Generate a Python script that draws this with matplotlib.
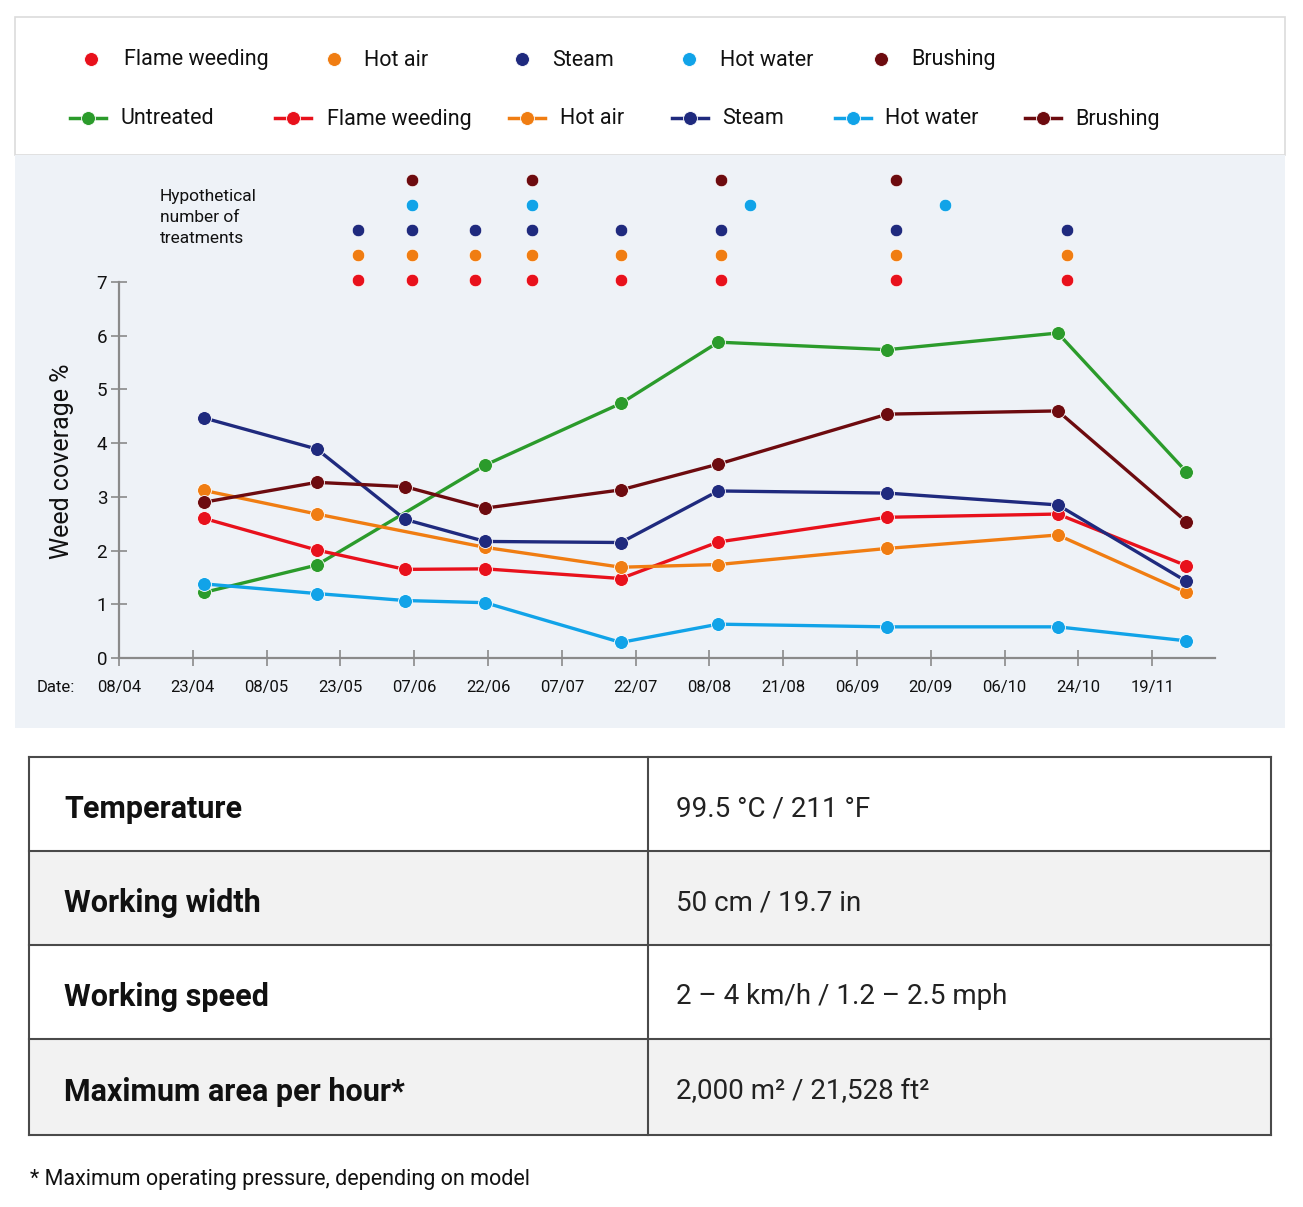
import numpy as np
import matplotlib
matplotlib.use("Agg")
import matplotlib.pyplot as plt
from matplotlib.patches import Rectangle

plt.rcParams['font.family'] = ['Roboto', 'DejaVu Sans']

# ---------------- data ----------------
date_labels = ["08/04", "23/04", "08/05", "23/05", "07/06", "22/06", "07/07", "22/07",
               "08/08", "21/08", "06/09", "20/09", "06/10", "24/10", "19/11"]
# measurement dates on the (evenly spaced) date-tick scale
meas_x = [1.15, 2.68, 3.875, 4.96, 6.80, 8.12, 10.41, 12.72, 14.46]

series_names = ["Untreated", "Flame weeding", "Hot air", "Steam", "Hot water", "Brushing"]
untreated     = [1.22, 1.73, None, 3.59, 4.74, 5.88, 5.74, 6.05, 3.47]
flame_weeding = [2.60, 2.01, 1.65, 1.66, 1.48, 2.16, 2.62, 2.68, 1.72]
hot_air       = [3.12, 2.68, None, 2.06, 1.69, 1.74, 2.04, 2.29, 1.22]
steam         = [4.47, 3.89, 2.58, 2.17, 2.15, 3.11, 3.07, 2.85, 1.43]
hot_water     = [1.38, 1.20, 1.07, 1.03, 0.29, 0.63, 0.58, 0.58, 0.32]
brushing      = [2.90, 3.27, 3.19, 2.79, 3.13, 3.61, 4.54, 4.60, 2.54]
series_values = [untreated, flame_weeding, hot_air, steam, hot_water, brushing]

treat_names = ["Flame weeding", "Hot air", "Steam", "Hot water", "Brushing"]
treat_flame = [3.24, 3.97, 4.82, 5.60, 6.80, 8.16, 10.53, 12.85]
treat_hotair = [3.24, 3.97, 4.82, 5.60, 6.80, 8.16, 10.53, 12.85]
treat_steam = [3.24, 3.97, 4.82, 5.60, 6.80, 8.16, 10.53, 12.85]
treat_hotwater = [3.97, 5.60, 8.55, 11.19]
treat_brushing = [3.97, 5.60, 8.16, 10.53]
treat_dates = [treat_flame, treat_hotair, treat_steam, treat_hotwater, treat_brushing]

table_labels = ["Temperature", "Working width", "Working speed", "Maximum area per hour*"]
table_values = ["99.5 °C / 211 °F", "50 cm / 19.7 in", "2 – 4 km/h / 1.2 – 2.5 mph",
                "2,000 m² / 21,528 ft²"]
footnote = "* Maximum operating pressure, depending on model"

colors = {"Untreated": "#2b9b2b", "Flame weeding": "#e8111c", "Hot air": "#f07d12",
          "Steam": "#1f2a7e", "Hot water": "#11a3e8", "Brushing": "#6d0b0f"}

# ---------------- figure ----------------
W, H = 1303, 1207
fig = plt.figure(figsize=(W / 100, H / 100), dpi=100)
fig.patch.set_facecolor("white")

bg = fig.add_axes([0, 0, 1, 1])
bg.set_xlim(0, W)
bg.set_ylim(H, 0)
bg.axis("off")

# legend box
bg.add_patch(Rectangle((15, 17), 1270, 138, facecolor="white", edgecolor="#dcdcdc", lw=1.2))
# chart background
bg.add_patch(Rectangle((15, 155), 1270, 573, facecolor="#eef2f7", edgecolor="none"))

# legend row 1 (treatment dots)
r1_mx = [91, 334, 522, 689, 881]
r1_tx = [124, 364, 552, 720, 911]
for name, mx, tx in zip(treat_names, r1_mx, r1_tx):
    bg.plot([mx], [59], "o", ms=10, color=colors[name], mec="white", mew=0.6)
    bg.text(tx, 60, name, fontsize=15.5, va="center", ha="left", color="#111111")

# legend row 2 (lines)
r2_mx = [88, 293, 527, 690, 853, 1043]
r2_tx = [121, 327, 560, 722, 885, 1075]
for name, mx, tx in zip(series_names, r2_mx, r2_tx):
    bg.plot([mx - 18, mx + 18], [118, 118], "-", lw=2.5, color=colors[name])
    bg.plot([mx], [118], "o", ms=10, color=colors[name], mec="white", mew=0.6)
    bg.text(tx, 119, name, fontsize=15.5, va="center", ha="left", color="#111111")

# hypothetical treatments text
bg.text(160, 189, "Hypothetical\nnumber of\ntreatments", fontsize=12.5, va="top", ha="left",
        color="#111111", linespacing=1.5)
bg.text(37, 687, "Date:", fontsize=12, va="center", ha="left", color="#111111")

# ---------------- table ----------------
row_edges = [757, 851, 945, 1039, 1135]
x_left, x_mid, x_right = 29, 648, 1271
for i in range(len(table_labels)):
    y0, y1 = row_edges[i], row_edges[i + 1]
    fc = "white" if i % 2 == 0 else "#f2f2f2"
    bg.add_patch(Rectangle((x_left, y0), x_right - x_left, y1 - y0, facecolor=fc,
                           edgecolor="none"))
    yc = (y0 + y1) / 2 + 5
    bg.text(64, yc, table_labels[i], fontsize=22, fontweight="bold", va="center",
            ha="left", color="#111111")
    bg.text(676, yc, table_values[i], fontsize=20, va="center", ha="left", color="#222222")
for y in row_edges:
    bg.plot([x_left, x_right], [y, y], color="#4a4a4a", lw=1.5)
for x in [x_left, x_mid, x_right]:
    bg.plot([x, x], [row_edges[0], row_edges[-1]], color="#4a4a4a", lw=1.5)

bg.text(30, 1179, footnote, fontsize=15.5, va="center", ha="left", color="#111111")

# ---------------- main chart ----------------
ax_l, ax_r = 119, 1215
ax_b, ax_t = 658, 282
ax = fig.add_axes([ax_l / W, (H - ax_b) / H, (ax_r - ax_l) / W, (ax_b - ax_t) / H])
ax.patch.set_alpha(0)
ax.set_xlim(0, 14.85)
ax.set_ylim(0, 7)
for s in ["top", "right"]:
    ax.spines[s].set_visible(False)
for s in ["left", "bottom"]:
    ax.spines[s].set_color("#8a8a8a")
    ax.spines[s].set_linewidth(1.6)
ax.set_xticks(range(len(date_labels)))
ax.set_xticklabels(date_labels)
ax.set_yticks(range(8))
ax.tick_params(axis="both", direction="inout", length=11, width=1.2, color="#8a8a8a",
               labelsize=12, labelcolor="#111111")
ax.tick_params(axis="x", pad=10.5)
ax.tick_params(axis="y", pad=3, labelsize=13.5)
ax.set_ylabel("Weed coverage %", fontsize=18, color="#111111")
ax.yaxis.set_label_coords(-0.041, 0.524)

for name, vals in zip(series_names, series_values):
    xs = [x for x, v in zip(meas_x, vals) if v is not None]
    ys = [v for v in vals if v is not None]
    ax.plot(xs, ys, "-o", color=colors[name], lw=2.4, ms=10, mec="white", mew=0.6,
            clip_on=False, zorder=3)

row_base, row_step = 7.03, 0.465
for i, (name, dates) in enumerate(zip(treat_names, treat_dates)):
    ax.plot(dates, [row_base + i * row_step] * len(dates), "o", ls="none",
            color=colors[name], ms=9, mec="white", mew=0.5, clip_on=False, zorder=3)

fig.savefig("out.png", dpi=100, facecolor="white")
